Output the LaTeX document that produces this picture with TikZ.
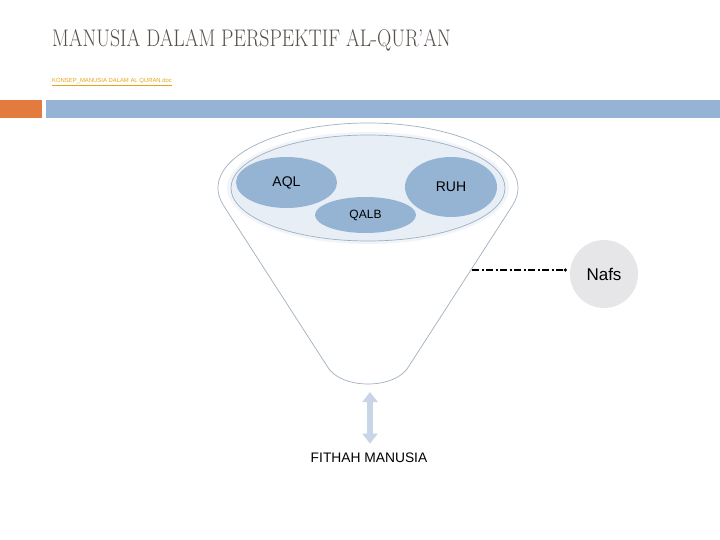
\documentclass[tikz,border=0pt]{standalone}
\usepackage{fontspec}
\newfontfamily\arialf{Liberation Sans}
\usetikzlibrary{positioning,shapes.geometric,arrows.meta}
\definecolor{barblue}{RGB}{149,179,213}
\definecolor{barorange}{RGB}{227,123,62}
\definecolor{blobblue}{RGB}{149,179,210}
\definecolor{bowlfill}{RGB}{232,238,245}
\definecolor{bowlglow}{RGB}{241,244,249}
\definecolor{funnelline}{RGB}{160,175,192}
\definecolor{nafsgray}{RGB}{230,230,232}
\definecolor{arrowblue}{RGB}{199,213,230}
\definecolor{titlebrown}{RGB}{90,80,75}
\definecolor{linkgold}{RGB}{226,166,26}

\begin{document}
\begin{tikzpicture}[x=1pt, y=-1pt,
      blob/.style={ellipse, fill=blobblue, inner sep=0pt, font=\arialf\fontsize{14}{16}\selectfont},
      outline/.style={draw=funnelline, line width=0.7pt},
      chain/.style={line width=1.3pt, dash pattern=on 7pt off 2.5pt on 2pt off 2.5pt, -{Circle[length=3pt]}},
      twoway/.style={arrowblue, line width=6pt, {Triangle[width=15pt,length=10pt]}-{Triangle[width=15pt,length=10pt]}}
    ]
    \useasboundingbox (0,0) rectangle (720,540);

    % ---- heading and bars ----
    \node[anchor=base west, inner sep=0pt, text=titlebrown, font=\fontsize{24}{28}\selectfont] (title) at (52,47)
      {\scalebox{0.823}[1]{MANUSIA DALAM PERSPEKTIF AL-QUR’AN}};
    \node[anchor=west, inner sep=0pt, text=linkgold, font=\arialf\fontsize{5.9}{6.5}\selectfont] (link) at (52,82)
      {\underline{KONSEP\_MANUSIA DALAM AL QURAN.doc}};
    \fill[barorange] (0,100) rectangle (42,118);
    \fill[barblue] (46,100) rectangle (720,118);

    % ---- funnel: top arc, sides, rounded bottom ----
    \draw[outline, fill=white] (368,188) ++(165:150 and 65)
      arc[start angle=165, end angle=375, x radius=150, y radius=65]
      -- (409,366) .. controls (396,390) and (340,390) .. (327,366) -- cycle;
    \fill[bowlglow] (368,188) ellipse[x radius=141, y radius=56];
    \draw[outline, fill=bowlfill] (368,188) ellipse[x radius=137, y radius=53];

    % ---- the three contents ----
    \node[blob, minimum width=101pt, minimum height=51pt] (aql) at (286.5,182.5) {AQL};
    \node[blob, minimum width=92pt, minimum height=60pt] (ruh) at (451,187) {RUH};
    \node[blob, minimum width=101pt, minimum height=36pt, font=\arialf\fontsize{12}{14}\selectfont] (qalb) at (365.5,215) {QALB};

    % ---- nafs and its link ----
    \node[circle, fill=nafsgray, minimum size=68pt, inner sep=0pt, font=\arialf\fontsize{17}{19}\selectfont] (nafs) at (604,274) {Nafs};
    \coordinate (funnelR) at (472,270);
    \draw[chain, shorten >=3pt] (funnelR) -- (funnelR -| nafs.west);

    % ---- fitrah below ----
    \node[font=\arialf\fontsize{13.8}{16}\selectfont] (fithah) at (369,458) {FITHAH MANUSIA};
    \coordinate (fitTop) at (370,392);
    \draw[twoway, shorten >=6pt] (fitTop) -- (fitTop |- fithah.north);
  \end{tikzpicture}
\end{document}
